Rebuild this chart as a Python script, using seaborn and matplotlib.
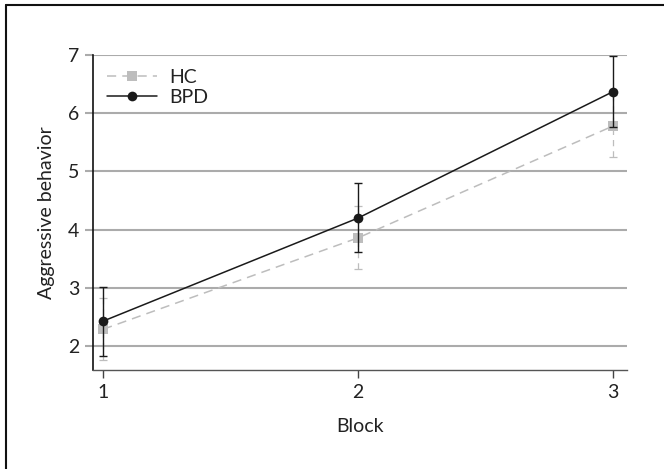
import numpy as np
import pandas as pd
import matplotlib
matplotlib.use("Agg")
import matplotlib.pyplot as plt
import seaborn as sns
from matplotlib.lines import Line2D

# ==================================
# Data
# ==================================

block = [1, 2, 3]

hc_mean = [2.29, 3.86, 5.78]
hc_low = [1.76, 3.32, 5.24]
hc_high = [2.83, 4.40, 6.32]

bpd_mean = [2.43, 4.20, 6.37]
bpd_low = [1.83, 3.61, 5.76]
bpd_high = [3.02, 4.80, 6.98]

df = pd.DataFrame({
    "Block": block * 2,
    "Aggressive behavior": hc_mean + bpd_mean,
    "Group": ["HC"] * 3 + ["BPD"] * 3,
})

# ==================================
# Style
# ==================================

sns.set_style("white")
plt.rcParams["font.family"] = ["Lato", "DejaVu Sans"]

grid_col = "#ababab"
hc_col = "#bdbdbd"
fs = 14

fig = plt.figure(figsize=(6.64, 4.69), dpi=100)
ax = fig.add_axes([93 / 664, 1 - 370 / 469, 534 / 664, 315 / 469])

# ==================================
# Plot
# ==================================

sns.lineplot(
    data=df[df["Group"] == "HC"], x="Block", y="Aggressive behavior",
    color=hc_col, marker="s", markersize=7, markeredgewidth=0,
    linestyle=(0, (6, 4)), linewidth=1.1, label="HC", ax=ax, zorder=3,
)
sns.lineplot(
    data=df[df["Group"] == "BPD"], x="Block", y="Aggressive behavior",
    color="#1a1a1a", marker="o", markersize=7, markeredgewidth=0,
    linewidth=1.1, label="BPD", ax=ax, zorder=5,
)

hc_err = [np.array(hc_mean) - np.array(hc_low), np.array(hc_high) - np.array(hc_mean)]
bpd_err = [np.array(bpd_mean) - np.array(bpd_low), np.array(bpd_high) - np.array(bpd_mean)]

eb = ax.errorbar(block, hc_mean, yerr=hc_err, fmt="none", ecolor=hc_col,
                 elinewidth=0.9, capsize=3.2, capthick=0.9, zorder=2)
eb[2][0].set_linestyle((0, (5, 4)))
ax.errorbar(block, bpd_mean, yerr=bpd_err, fmt="none", ecolor="#1a1a1a",
            elinewidth=1.0, capsize=3.2, capthick=1.0, zorder=4)

# ==================================
# Axes
# ==================================

ax.set_xlim(0.96, 3.055)
ax.set_ylim(1.59, 7.0)
ax.set_xticks(block)
ax.set_yticks([2, 3, 4, 5, 6, 7])
ax.set_xlabel("Block", fontsize=fs, color="#222222", labelpad=12)
ax.set_ylabel("Aggressive behavior", fontsize=fs, color="#222222", labelpad=9)

ax.yaxis.grid(True, color=grid_col, linewidth=1.5)
ax.set_axisbelow(True)
ax.tick_params(axis="y", length=6, width=1.5, color=grid_col, labelsize=fs,
               labelcolor="#222222", pad=4, left=True)
ax.tick_params(axis="x", length=6, width=1.0, color="#444444", labelsize=fs,
               labelcolor="#222222", pad=4, bottom=True)

for s in ["top", "right"]:
    ax.spines[s].set_visible(False)
ax.spines["left"].set_color("#111111")
ax.spines["left"].set_linewidth(1.2)
ax.spines["bottom"].set_color("#555555")
ax.spines["bottom"].set_linewidth(1.0)

leg = ax.legend(loc="upper left", frameon=False, fontsize=fs,
                handlelength=2.6, handletextpad=0.6, borderaxespad=0.3,
                labelspacing=0.15, bbox_to_anchor=(0.0, 1.0))
for t in leg.get_texts():
    t.set_color("#222222")

# outer frame (left and top edges)
fig.add_artist(Line2D([6 / 664, 6 / 664], [0, 1 - 5 / 469],
                      transform=fig.transFigure, color="#111111", linewidth=1.5))
fig.add_artist(Line2D([6 / 664, 1], [1 - 5 / 469, 1 - 5 / 469],
                      transform=fig.transFigure, color="#111111", linewidth=1.5))

fig.savefig("out.png", dpi=100)
